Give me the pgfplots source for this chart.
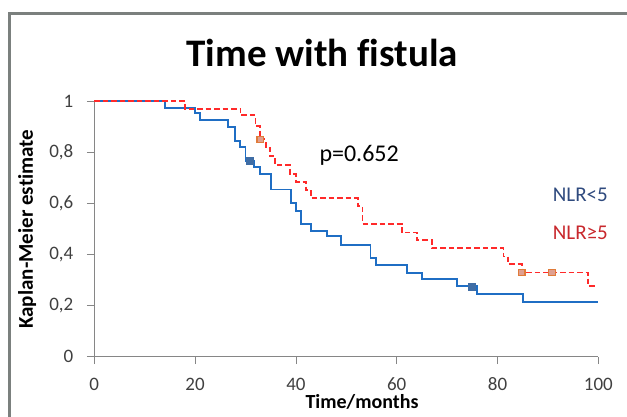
\documentclass[border=0pt]{standalone}
\usepackage{pgfplots}
\pgfplotsset{compat=1.18}
\usepackage{fontspec}
\setmainfont[Ligatures=NoCommon]{Carlito}
\definecolor{kmblue}{HTML}{1F6EC4}
\definecolor{kmred}{HTML}{FF2A2A}
\definecolor{mkblue}{HTML}{3F6DA5}
\definecolor{mkorange}{HTML}{E07B3A}
\definecolor{mkfill}{HTML}{E0A090}
\definecolor{axgray}{HTML}{868686}
\definecolor{framegray}{HTML}{7B807E}
\definecolor{nlrblue}{HTML}{2F4A7E}
\definecolor{nlrred}{HTML}{C8282D}
\definecolor{ticktext}{HTML}{404040}
\begin{document}
\begin{tikzpicture}[x=1bp,y=1bp]
\path[use as bounding box] (-94.3,-59.3) rectangle (532.7,356.7);
\draw[framegray, line width=2.5bp] (-85,-90) rectangle (560,343.4);
\begin{axis}[
  at={(0,0)}, anchor=south west,
  scale only axis, width=504bp, height=255.7bp,
  xmin=0, xmax=100, ymin=0, ymax=1,
  axis x line=bottom, axis y line=left,
  axis line style={axgray, line width=0.8bp, -},
  xtick={0,20,40,60,80,100},
  xticklabels={0,20,40,60,80,100},
  ytick={0,0.2,0.4,0.6,0.8,1},
  yticklabels={0,{0,2},{0,4},{0,6},{0,8},1},
  tick align=outside,
  major tick length=7.5bp,
  tick style={axgray, line width=0.8bp},
  tick label style={font=\fontsize{19bp}{21bp}\selectfont, text=ticktext},
  xticklabel style={anchor=base, inner sep=0pt, yshift=-26bp},
  yticklabel style={xshift=-10bp},
  clip=false,
]
\addplot[const plot, kmblue, line width=1.9bp] coordinates {
(0,1) (14,0.974) (20,0.954) (21,0.927) (26.6,0.90) (27.9,0.843) (28.9,0.82)
(30,0.767) (31.7,0.741) (32.9,0.713) (35,0.654) (39,0.601) (40,0.569)
(41,0.52) (43,0.49) (46.1,0.471) (49,0.438) (54.8,0.386) (55.9,0.357)
(62,0.328) (65,0.303) (71.9,0.275) (75.9,0.246) (85,0.213) (100,0.213)
};
\addplot[const plot, kmred, line width=1.8bp, dash pattern=on 5.5bp off 3bp] coordinates {
(0,1) (18,0.97) (29,0.944) (32,0.902) (32.9,0.85) (34,0.817) (34.9,0.784)
(35.9,0.75) (38.8,0.713) (40,0.684) (42,0.651) (43,0.62) (52.3,0.588)
(53.2,0.52) (61,0.486) (64,0.455) (67,0.425) (81.2,0.392) (82.1,0.362)
(84.8,0.329) (98,0.277) (99.3,0.277)
};
\addplot[only marks, mark=square*, mark size=3.5bp, mkblue] coordinates {
(30.8,0.767) (74.9,0.275)
};
\addplot[only marks, mark=square*, mark size=3.2bp,
  mark options={draw=mkorange, fill=mkfill, line width=1.2bp}] coordinates {
(32.9,0.85) (84.8,0.329) (90.8,0.329)
};
\end{axis}
\node[anchor=base, font=\fontsize{39bp}{40bp}\selectfont\bfseries] at (227.9,290) {Time with fistula};
\node[anchor=base west, inner sep=0pt, font=\fontsize{24bp}{26bp}\selectfont] at (225,195) {p=0.652};
\node[anchor=base west, inner sep=0pt, text=nlrblue, font=\fontsize{21bp}{23bp}\selectfont] at (458.4,155) {NLR<5};
\node[anchor=base west, inner sep=0pt, text=nlrred, font=\fontsize{21bp}{23bp}\selectfont] at (458.4,117.4) {NLR≥5};
\node[anchor=base, inner sep=0pt, font=\fontsize{20bp}{22bp}\selectfont\bfseries] at (267.7,-52) {Time/months};
\node[anchor=base, rotate=90, inner sep=0pt, font=\fontsize{21bp}{23bp}\selectfont\bfseries] at (-61.3,127.5) {Kaplan-Meier estimate};
\end{tikzpicture}
\end{document}
